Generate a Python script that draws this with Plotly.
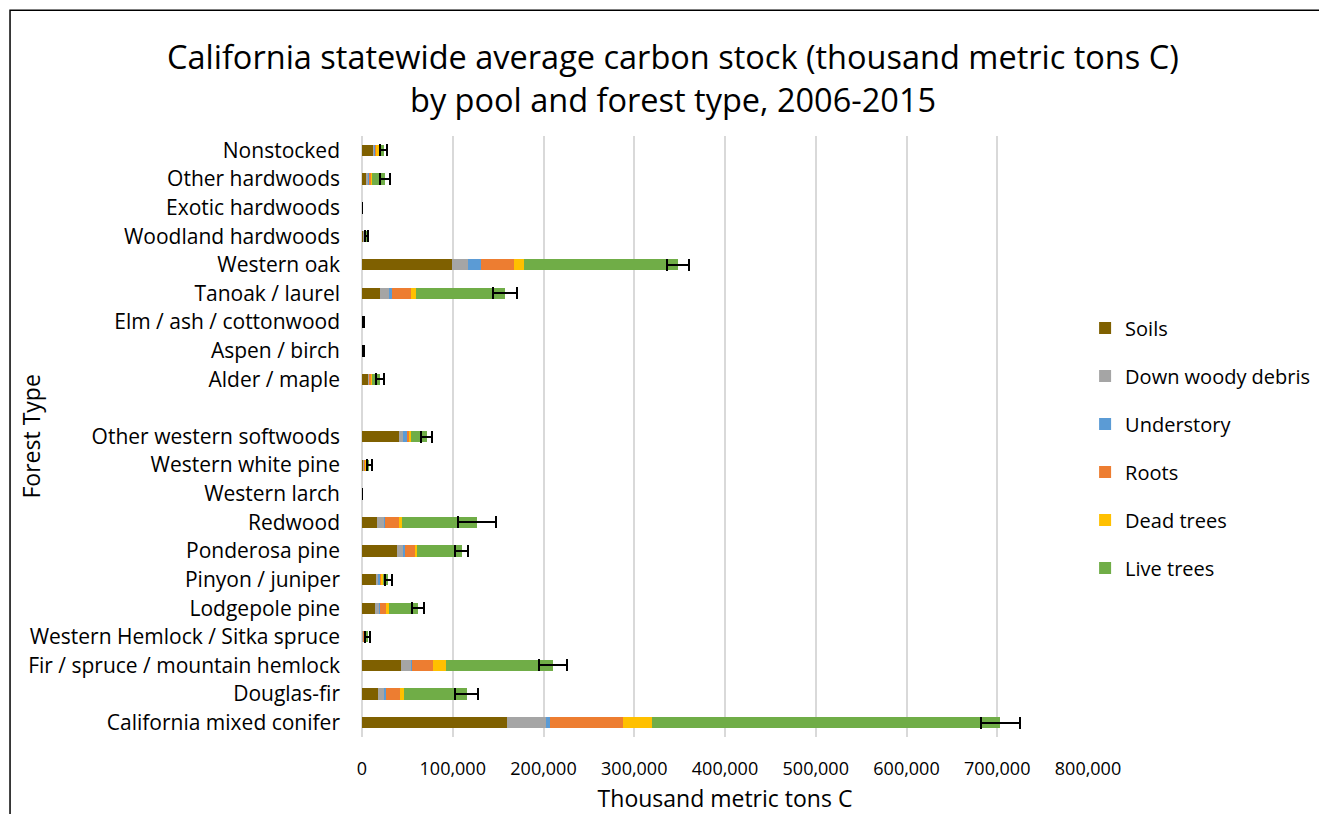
import plotly.graph_objects as go

# forest types, top to bottom as in the chart (blank row splits hardwoods / softwoods)
forest_types = [
    "Nonstocked", "Other hardwoods", "Exotic hardwoods", "Woodland hardwoods",
    "Western oak", "Tanoak / laurel", "Elm / ash / cottonwood", "Aspen / birch",
    "Alder / maple", " ", "Other western softwoods", "Western white pine",
    "Western larch", "Redwood", "Ponderosa pine", "Pinyon / juniper",
    "Lodgepole pine", "Western Hemlock / Sitka spruce",
    "Fir / spruce / mountain hemlock", "Douglas-fir", "California mixed conifer",
]

# carbon pools, thousand metric tons C
soils = [12500, 4400, 100, 1700, 99000, 19800, 400, 500, 7000, None, 40800, 1800,
         100, 16500, 38900, 15400, 14300, 1000, 42600, 17300, 159900]
down_woody = [1000, 2500, 50, 500, 17500, 10300, 200, 200, 1000, None, 4000, 800,
              50, 8100, 7000, 2600, 5200, 500, 11400, 8000, 42600]
understory = [1500, 1000, 20, 300, 14700, 3300, 100, 100, 500, None, 4400, 200,
              20, 300, 1500, 2200, 300, 200, 1500, 1200, 5100]
roots = [1500, 2600, 30, 1200, 36800, 20300, 300, 300, 1500, None, 2600, 1200,
         30, 16200, 11400, 1500, 6600, 1000, 22400, 15000, 80200]
dead_trees = [2200, 1000, 20, 300, 10600, 5800, 100, 100, 800, None, 1900, 1200,
              20, 3000, 1800, 1100, 3700, 400, 14400, 4400, 31600]
live_trees = [5200, 13900, 80, 1000, 170000, 98200, 400, 400, 9000, None, 17600, 2900,
              80, 82600, 49300, 6200, 31600, 3000, 117900, 69500, 384000]
total_err = [4000, 5500, 0, 2000, 12000, 13000, 700, 700, 4800, None, 6000, 2600,
             0, 20600, 7300, 3700, 6600, 2500, 15600, 12500, 21700]

x_ticks = [0, 100000, 200000, 300000, 400000, 500000, 600000, 700000, 800000]

pools = [
    ("Soils", soils, "#7f6000"),
    ("Down woody debris", down_woody, "#a5a5a5"),
    ("Understory", understory, "#5b9bd5"),
    ("Roots", roots, "#ed7d31"),
    ("Dead trees", dead_trees, "#ffc000"),
    ("Live trees", live_trees, "#70ad47"),
]

FONT = "Open Sans"

fig = go.Figure()
for i, (name, vals, color) in enumerate(pools):
    last = i == len(pools) - 1
    fig.add_trace(go.Bar(
        y=forest_types, x=vals,
        orientation="h",
        name=name,
        legendgroup=name,
        marker=dict(color=color, line=dict(width=0)),
        error_x=dict(type="data", array=total_err, visible=True,
                     color="black", thickness=2, width=6) if last else None,
    ))

# page body has an 8px margin, so the figure is a bit smaller than the window
fig.update_layout(
    width=1319, height=806,
    barmode="stack",
    bargap=0.61,
    plot_bgcolor="white",
    paper_bgcolor="white",
    font=dict(family=FONT, size=21, color="black"),
    margin=dict(l=354, r=239, t=128, b=77, autoexpand=False),
    legend=dict(
        x=0.996, xanchor="left", y=0.713, yanchor="top",
        traceorder="grouped", tracegroupgap=19,
        font=dict(family=FONT, size=20),
        itemwidth=30,
    ),
    xaxis=dict(
        range=[0, 800000],
        tickvals=x_ticks,
        tickformat=",",
        showgrid=True, gridcolor="#d9d9d9", gridwidth=2,
        zeroline=True, zerolinecolor="#d9d9d9", zerolinewidth=2,
        showline=False, ticks="",
        ticklabelstandoff=19,
        tickfont=dict(size=18),
        title=dict(text="Thousand metric tons C", font=dict(size=23), standoff=11),
    ),
    yaxis=dict(
        categoryorder="array", categoryarray=forest_types,
        autorange="reversed",
        showgrid=False, showline=False, ticks="",
        ticklabelstandoff=21,
        tickfont=dict(size=21),
    ),
    annotations=[
        dict(text="California statewide average carbon stock (thousand metric tons C)",
             x=0.4284, xref="paper", xanchor="center",
             y=1.133, yref="paper", yanchor="middle",
             showarrow=False, font=dict(family=FONT, size=32.5)),
        dict(text="by pool and forest type, 2006-2015",
             x=0.4284, xref="paper", xanchor="center",
             y=1.061, yref="paper", yanchor="middle",
             showarrow=False, font=dict(family=FONT, size=32.5)),
        dict(text="Forest Type", textangle=-90,
             x=-0.4573, xref="paper", xanchor="center",
             y=0.5, yref="paper", yanchor="middle",
             showarrow=False, font=dict(family=FONT, size=23)),
    ],
    shapes=[dict(
        type="rect", xref="paper", yref="paper",
        x0=-0.4848, x1=2.0, y0=-0.5, y1=1.2093,
        line=dict(color="black", width=1.5), layer="below",
    )],
)

fig.write_html("out.html")
